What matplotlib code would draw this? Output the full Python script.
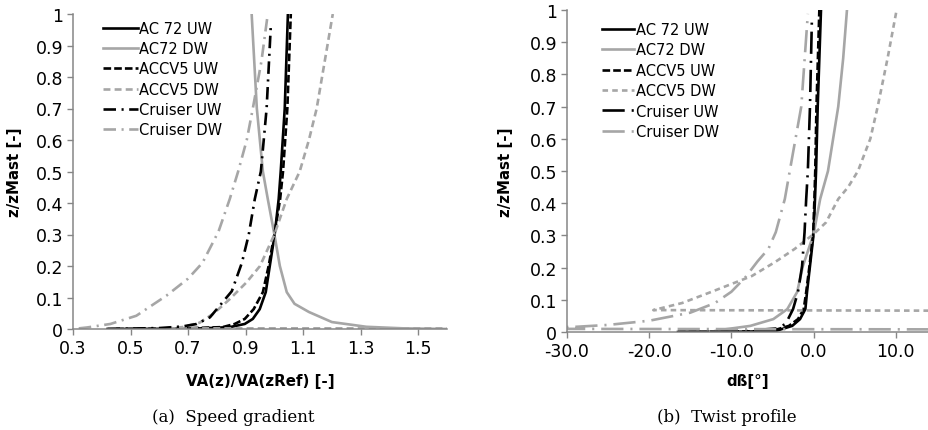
import matplotlib.pyplot as plt

plt.rcParams['font.family'] = 'DejaVu Sans'
plt.rcParams['lines.scale_dashes'] = False

labels = ['AC 72 UW', 'AC72 DW', 'ACCV5 UW', 'ACCV5 DW', 'Cruiser UW', 'Cruiser DW']

# (a) speed gradient, VA(z)/VA(zRef) against z/zMast
va_ac72_uw = [0.42, 0.60, 0.75, 0.845, 0.897, 0.925, 0.949, 0.970, 0.984, 1.001, 1.015, 1.022, 1.036, 1.047]
z_ac72_uw = [0.0, 0.0005, 0.002, 0.006, 0.016, 0.032, 0.063, 0.117, 0.2, 0.3, 0.413, 0.5, 0.7, 1.0]

va_ac72_dw = [1.60, 1.45, 1.32, 1.20, 1.12, 1.07, 1.043, 1.019, 1.0, 0.977, 0.96, 0.939, 0.921]
z_ac72_dw = [0.0, 0.002, 0.007, 0.022, 0.054, 0.08, 0.117, 0.2, 0.3, 0.413, 0.5, 0.7, 1.0]

va_accv5_uw = [0.45, 0.65, 0.82, 0.862, 0.897, 0.928, 0.96, 0.98, 1.0, 1.02, 1.03, 1.045, 1.057]
z_accv5_uw = [0.0, 0.001, 0.006, 0.016, 0.032, 0.063, 0.117, 0.2, 0.3, 0.413, 0.5, 0.7, 1.0]

va_accv5_dw = [1.70, 0.62, 0.68, 0.74, 0.79, 0.845, 0.903, 0.95, 1.0, 1.043, 1.088, 1.12, 1.147, 1.175, 1.203]
z_accv5_dw = [0.002, 0.002, 0.006, 0.02, 0.05, 0.095, 0.148, 0.2, 0.3, 0.413, 0.5, 0.6, 0.7, 0.85, 1.0]

va_cruiser_uw = [0.42, 0.60, 0.68, 0.73, 0.776, 0.81, 0.852, 0.887, 0.911, 0.932, 0.953, 0.973, 0.988]
z_cruiser_uw = [0.0, 0.003, 0.008, 0.016, 0.037, 0.074, 0.12, 0.21, 0.3, 0.413, 0.5, 0.7, 0.97]

va_cruiser_dw = [0.32, 0.35, 0.43, 0.52, 0.625, 0.70, 0.75, 0.806, 0.845, 0.874, 0.904, 0.925, 0.955, 0.977]
z_cruiser_dw = [0.002, 0.005, 0.016, 0.042, 0.106, 0.16, 0.21, 0.31, 0.413, 0.5, 0.6, 0.7, 0.85, 1.0]

# (b) twist profile, dß in degrees against z/zMast
db_ac72_uw = [-16.5, -10.0, -6.0, -4.5, -2.6, -1.65, -1.0, -0.8, -0.44, 0.0, 0.17, 0.3, 0.5, 0.9]
zb_ac72_uw = [0.0, 0.0005, 0.002, 0.004, 0.019, 0.04, 0.071, 0.124, 0.205, 0.304, 0.413, 0.5, 0.7, 1.0]

db_ac72_dw = [-12.6, -11.4, -7.7, -4.9, -3.2, -2.0, -1.3, 0.0, 0.8, 1.75, 3.0, 3.6, 4.06]
zb_ac72_dw = [0.0, 0.006, 0.019, 0.04, 0.071, 0.124, 0.205, 0.304, 0.413, 0.5, 0.7, 0.85, 1.0]

db_accv5_uw = [-16.5, -9.0, -5.0, -3.0, -1.9, -1.2, -0.9, -0.5, -0.05, 0.1, 0.2, 0.35, 0.7]
zb_accv5_uw = [0.0, 0.001, 0.004, 0.019, 0.04, 0.071, 0.124, 0.205, 0.304, 0.413, 0.5, 0.7, 1.0]

db_accv5_dw = [20.0, -19.5, -16.0, -12.5, -7.5, -4.7, -2.3, 0.0, 1.5, 3.0, 4.2, 5.4, 6.9, 7.8, 9.0, 10.1]
zb_accv5_dw = [0.066, 0.068, 0.09, 0.124, 0.174, 0.217, 0.258, 0.304, 0.34, 0.413, 0.45, 0.5, 0.6, 0.7, 0.85, 1.0]

db_cruiser_uw = [-16.5, -9.0, -4.5, -3.4, -2.5, -1.9, -1.4, -1.1, -0.9, -0.7, -0.44, -0.2]
zb_cruiser_uw = [0.0, 0.002, 0.011, 0.025, 0.071, 0.124, 0.205, 0.31, 0.413, 0.5, 0.7, 0.98]

db_cruiser_dw = [20.0, -40.0, -29.0, -25.0, -20.0, -15.0, -12.0, -10.0, -8.3, -6.8, -5.5, -4.6, -3.5, -2.9, -1.5, -0.7]
zb_cruiser_dw = [0.008, 0.01, 0.016, 0.022, 0.035, 0.06, 0.09, 0.125, 0.17, 0.22, 0.258, 0.31, 0.413, 0.5, 0.7, 0.988]

GREY = '#a6a6a6'
AXIS_GREY = '#868686'

speed = [(va_ac72_uw, z_ac72_uw), (va_ac72_dw, z_ac72_dw), (va_accv5_uw, z_accv5_uw),
         (va_accv5_dw, z_accv5_dw), (va_cruiser_uw, z_cruiser_uw), (va_cruiser_dw, z_cruiser_dw)]
twist = [(db_ac72_uw, zb_ac72_uw), (db_ac72_dw, zb_ac72_dw), (db_accv5_uw, zb_accv5_uw),
         (db_accv5_dw, zb_accv5_dw), (db_cruiser_uw, zb_cruiser_uw), (db_cruiser_dw, zb_cruiser_dw)]

colors = ['black', GREY, 'black', GREY, 'black', GREY]
styles_a = ['-', '-', (0, (5.5, 2.2)), (0, (5, 3)), (0, (9, 4, 1.5, 4)), (0, (9, 4, 1.5, 4))]
styles_b = ['-', '-', (0, (5.5, 2.2)), (0, (4, 3)), (0, (16, 5, 1.5, 5)), (0, (16, 5, 1.5, 5))]

W, H = 929, 431
fig = plt.figure(figsize=(W / 100, H / 100), dpi=100)


def px_axes(x0, x1, ytop, ybot):
    return fig.add_axes([x0 / W, 1 - ybot / H, (x1 - x0) / W, (ybot - ytop) / H])


def style_axes(ax):
    for s in ['top', 'right']:
        ax.spines[s].set_visible(False)
    for s in ['left', 'bottom']:
        ax.spines[s].set_color(AXIS_GREY)
        ax.spines[s].set_linewidth(1.1)
    ax.tick_params(direction='out', length=4, width=1, color=AXIS_GREY, labelsize=12.5, pad=3)
    ax.set_ylim(0, 1)
    ax.set_yticks([i / 10 for i in range(11)])
    ax.set_yticklabels(['0'] + ['0.%d' % i for i in range(1, 10)] + ['1'])


ax1 = px_axes(73, 447, 15, 330)
for (x, z), c, ls, lab in zip(speed, colors, styles_a, labels):
    ax1.plot(x, z, color=c, linestyle=ls, lw=1.9, label=lab)
style_axes(ax1)
ax1.set_xlim(0.3, 1.6)
ax1.set_xticks([0.3, 0.5, 0.7, 0.9, 1.1, 1.3, 1.5])
ax1.set_xticklabels(['0.3', '0.5', '0.7', '0.9', '1.1', '1.3', '1.5'])
ax1.set_xlabel('VA(z)/VA(zRef) [-]', fontweight='bold', fontsize=10.8, va='center')
ax1.xaxis.set_label_coords(0.5, (330 - 382) / 315)
ax1.set_ylabel('z/zMast [-]', fontweight='bold', fontsize=10.8, va='center')
ax1.yaxis.set_label_coords((14 - 73) / 374, 0.5)
ax1.legend(loc='upper left', bbox_to_anchor=((103 - 73) / 374, (330 - 22) / 315), frameon=False,
           fontsize=10.5, handlelength=2.4, handletextpad=0.1, labelspacing=0.36,
           borderpad=0, borderaxespad=0)

ax2 = px_axes(567, 929, 11, 333)
for (x, z), c, ls, lab in zip(twist, colors, styles_b, labels):
    ax2.plot(x, z, color=c, linestyle=ls, lw=1.9, label=lab)
style_axes(ax2)
ax2.set_xlim(-30, 14.04)
ax2.set_xticks([-30, -20, -10, 0, 10])
ax2.set_xticklabels(['-30.0', '-20.0', '-10.0', '0.0', '10.0'])
ax2.set_xlabel('dß[°]', fontweight='bold', fontsize=10.8, va='center')
ax2.xaxis.set_label_coords(0.5, (333 - 382) / 322)
ax2.set_ylabel('z/zMast [-]', fontweight='bold', fontsize=10.8, va='center')
ax2.yaxis.set_label_coords((506 - 567) / 362, 0.5)
ax2.legend(loc='upper left', bbox_to_anchor=((602 - 567) / 362, (333 - 23) / 322), frameon=False,
           fontsize=10.5, handlelength=2.2, handletextpad=0.1, labelspacing=0.37,
           borderpad=0, borderaxespad=0)

fig.text(233 / W, 1 - 418 / H, '(a)  Speed gradient', family='DejaVu Serif', fontsize=12,
         ha='center', va='center')
fig.text(727 / W, 1 - 418 / H, '(b)  Twist profile', family='DejaVu Serif', fontsize=12,
         ha='center', va='center')

fig.savefig('out.png', dpi=100)
